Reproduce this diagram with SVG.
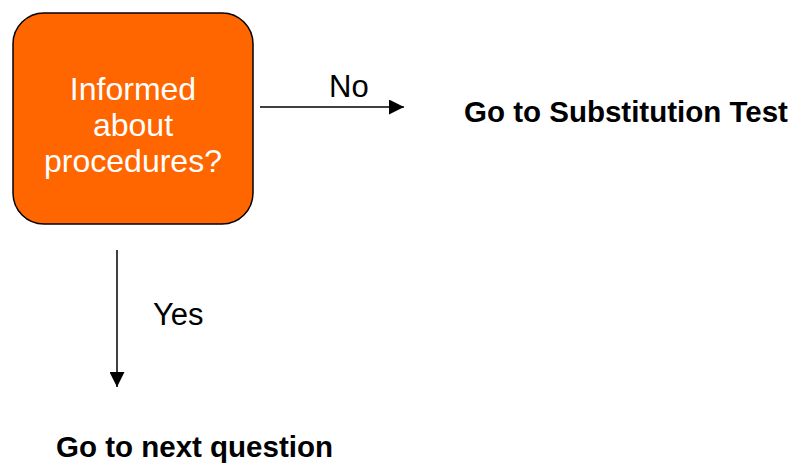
<svg xmlns="http://www.w3.org/2000/svg" width="790" height="463" viewBox="0 0 790 463">
  <style>
    .lbl { font-family: "Liberation Sans", Arial, sans-serif; font-size: 31px; fill: #000; }
    .box-text { font-family: "Liberation Sans", Arial, sans-serif; font-size: 32px; fill: #fff; text-anchor: middle; }
    .target { font-family: "Liberation Sans", Arial, sans-serif; font-size: 29.5px; font-weight: bold; fill: #000; }
    .conn { stroke: #000; stroke-width: 1.5; fill: none; }
  </style>
  <defs>
    <marker id="arrow" viewBox="0 0 16 16" refX="16" refY="8" markerWidth="16" markerHeight="15" markerUnits="userSpaceOnUse" orient="auto">
      <path d="M0,0 L16,8 L0,16 Z" fill="#000"/>
    </marker>
  </defs>
  <rect width="790" height="463" fill="#fff"/>

  <g id="decision">
    <rect x="13" y="13" width="240" height="211" rx="31" ry="31" fill="#FF6600" stroke="#000" stroke-width="1.5"/>
    <text class="box-text" x="133" y="100">Informed</text>
    <text class="box-text" x="133" y="136">about</text>
    <text class="box-text" x="133" y="172">procedures?</text>
  </g>

  <g id="substitution-test">
    <text class="target" x="464" y="122">Go to Substitution Test</text>
  </g>

  <g id="next-question">
    <text class="target" x="56" y="457">Go to next question</text>
  </g>

  <g id="connectors">
    <line class="conn" x1="260" y1="107" x2="404" y2="107" marker-end="url(#arrow)"/>
    <text class="lbl" x="329" y="97">No</text>
    <line class="conn" x1="117" y1="250" x2="117" y2="387" marker-end="url(#arrow)"/>
    <text class="lbl" x="153" y="325">Yes</text>
  </g>
</svg>
